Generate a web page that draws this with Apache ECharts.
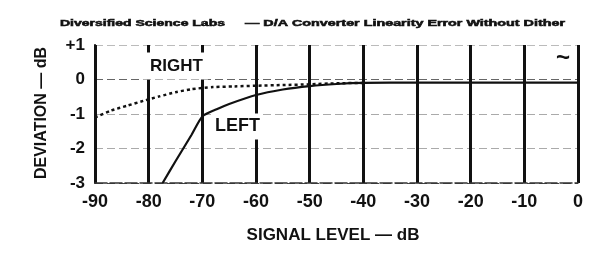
<!DOCTYPE html>
<html>
<head>
<meta charset="utf-8">
<script src="https://cdn.jsdelivr.net/npm/echarts@6/dist/echarts.min.js"></script>
<style>
html,body{margin:0;padding:0;background:#fff;}
#c{width:600px;height:259px;}
</style>
</head>
<body>
<div id="c"></div>
<script>
// ---- data ----
var xTicks = [-90, -80, -70, -60, -50, -40, -30, -20, -10, 0];
var xTickLabels = ['-90', '-80', '-70', '-60', '-50', '-40', '-30', '-20', '-10', '0'];
var yTicks = [1, 0, -1, -2, -3];
var yTickLabels = ['+1', '0', '-1', '-2', '-3'];

var leftX = [-77.4, -75, -72, -70, -67, -65, -60, -55, -50, -45, -40, -30, -20, -10, 0];
var leftY = [-3, -2.37, -1.6, -1.07, -0.84, -0.71, -0.45, -0.29, -0.19, -0.13, -0.1, -0.09, -0.09, -0.09, -0.09];

var rightX = [-90, -87, -84, -81, -78, -75, -72, -68, -64, -60, -55, -50, -45, -40];
var rightY = [-1.1, -0.9, -0.76, -0.62, -0.49, -0.37, -0.28, -0.22, -0.2, -0.18, -0.16, -0.14, -0.11, -0.1];

var titleLeft = 'Diversified Science Labs';
var titleRight = '\u2014 D/A Converter Linearity Error Without Dither';
var yName = 'DEVIATION \u2014 dB';
var xName = 'SIGNAL LEVEL \u2014 dB';

// ---- helpers ----
function zip(a, b) { return a.map(function (v, i) { return [v, b[i]]; }); }
var FONT = '"Liberation Sans", Arial, sans-serif';
var cv = document.createElement('canvas').getContext('2d');
function measure(t, size) { cv.font = 'bold ' + size + 'px "Liberation Sans"'; return cv.measureText(t).width; }

var chart = echarts.init(document.getElementById('c'), null, { renderer: 'canvas' });
var option = {
  animation: false,
  backgroundColor: '#fff',
  grid: { left: 95, right: 22, top: 45, bottom: 76 },
  xAxis: {
    type: 'value', min: -90, max: 0, interval: 10,
    axisLine: { show: true, onZero: false, lineStyle: { color: '#333', width: 1.5, type: [12, 3] } },
    axisTick: { show: false },
    axisLabel: {
      margin: 10, fontSize: 18, fontWeight: 'bold', color: '#111', fontFamily: FONT,
      formatter: function (v) { var i = xTicks.indexOf(v); return i >= 0 ? xTickLabels[i] : ''; }
    },
    splitLine: { show: true, lineStyle: { color: '#111', width: 3 } }
  },
  yAxis: {
    type: 'value', min: -3, max: 1, interval: 1,
    axisLine: { show: true, onZero: false, lineStyle: { color: '#111', width: 2 } },
    axisTick: { show: false },
    axisLabel: {
      margin: 10, fontSize: 17, fontWeight: 'bold', color: '#111', fontFamily: FONT,
      formatter: function (v) { var i = yTicks.indexOf(v); return i >= 0 ? yTickLabels[i] : ''; }
    },
    splitLine: { show: true, lineStyle: { color: ['#444', '#aaa', '#aaa', '#666', '#bbb'], width: 1, type: [8, 4] } }
  },
  series: [
    {
      name: 'LEFT', type: 'line', data: zip(leftX, leftY), showSymbol: false,
      smooth: 0.2, z: 3,
      lineStyle: { color: '#111', width: 2.2 }
    },
    {
      name: 'RIGHT', type: 'line', data: zip(rightX, rightY), showSymbol: false,
      smooth: 0.2, z: 3,
      lineStyle: { color: '#111', width: 2.5, type: [3, 3] }
    }
  ],
  graphic: [
    { type: 'text', x: 60, y: 24, scaleX: 165 / measure(titleLeft, 10), scaleY: 0.85,
      style: { text: titleLeft, font: 'bold 10px ' + FONT, fill: '#111', stroke: '#111', lineWidth: 0.6,
               textAlign: 'left', textVerticalAlign: 'middle' } },
    { type: 'text', x: 245, y: 24, scaleX: 320 / measure(titleRight, 10), scaleY: 0.85,
      style: { text: titleRight, font: 'bold 10px ' + FONT, fill: '#111', stroke: '#111', lineWidth: 0.6,
               textAlign: 'left', textVerticalAlign: 'middle' } },
    { type: 'text', x: 175.5, y: 66, z: 10,
      style: { text: 'RIGHT', font: 'bold 17px ' + FONT, fill: '#111', textAlign: 'center', textVerticalAlign: 'middle',
               backgroundColor: '#fff', padding: [9, 5, 1, 7] } },
    { type: 'text', x: 237.5, y: 126.5, z: 10,
      style: { text: 'LEFT', font: 'bold 18px ' + FONT, fill: '#111', textAlign: 'center', textVerticalAlign: 'middle',
               backgroundColor: '#fff', padding: [6, 1, 2, 1] } },
    { type: 'text', x: 563, y: 58, z: 10,
      style: { text: '~', font: 'bold 24px ' + FONT, fill: '#111', textAlign: 'center', textVerticalAlign: 'middle' } },
    { type: 'text', x: 42, y: 113, rotation: Math.PI / 2,
      style: { text: yName, font: 'bold 16px ' + FONT, fill: '#111', textAlign: 'center', textVerticalAlign: 'middle' } },
    { type: 'text', x: 333, y: 235,
      style: { text: xName, font: 'bold 17px ' + FONT, fill: '#111', textAlign: 'center', textVerticalAlign: 'middle' } }
  ]
};
chart.setOption(option);
</script>
</body>
</html>
